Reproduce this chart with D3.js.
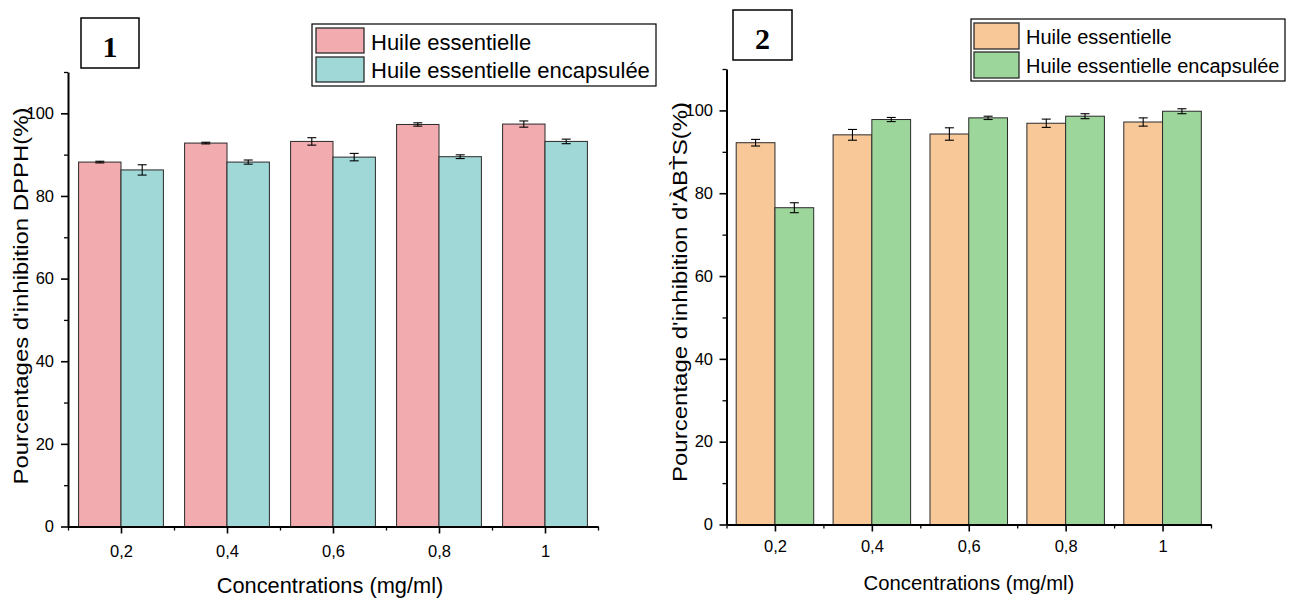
<!DOCTYPE html>
<html>
<head>
<meta charset="utf-8">
<script src="https://cdn.jsdelivr.net/npm/d3@7"></script>
<style>
  html, body { margin: 0; padding: 0; background: #fff; }
  svg { display: block; }
  text { font-family: "Liberation Sans", Arial, sans-serif; fill: #000; }
</style>
</head>
<body>
<svg id="chart" width="1293" height="599"></svg>
<script>
// ---------- data ----------
const concentrations = [0.2, 0.4, 0.6, 0.8, 1.0];
const xTickLabels = ["0,2", "0,4", "0,6", "0,8", "1"];
const yTicks = [0, 20, 40, 60, 80, 100];
const seriesNames = ["Huile essentielle", "Huile essentielle encapsulée"];

const dpphHuile = [88.2, 92.8, 93.2, 97.3, 97.4];
const dpphHuileErr = [0.2, 0.2, 0.9, 0.4, 0.75];
const dpphEncap = [86.3, 88.2, 89.4, 89.5, 93.2];
const dpphEncapErr = [1.25, 0.5, 0.9, 0.45, 0.55];

const abtsHuile = [92.2, 94.1, 94.3, 96.9, 97.2];
const abtsHuileErr = [0.8, 1.3, 1.5, 1.0, 1.0];
const abtsEncap = [76.5, 97.8, 98.2, 98.6, 99.8];
const abtsEncapErr = [1.2, 0.5, 0.4, 0.6, 0.6];

const svg = d3.select("#chart");

function drawPanel(cfg) {
  const x = d3.scaleLinear().domain([0.1, 1.1]).range([cfg.left, cfg.right]);
  const y = d3.scaleLinear().domain([0, 110]).range([cfg.bottom, cfg.top]);
  const g = svg.append("g");
  const barW = 0.08;

  const series = [
    { vals: cfg.s1, errs: cfg.e1, color: cfg.c1, off: -barW },
    { vals: cfg.s2, errs: cfg.e2, color: cfg.c2, off: 0 }
  ];

  series.forEach(s => {
    g.selectAll(null).data(concentrations).enter().append("rect")
      .attr("x", d => x(d + s.off))
      .attr("width", d => x(d + s.off + barW) - x(d + s.off))
      .attr("y", (d, i) => y(s.vals[i]))
      .attr("height", (d, i) => y(0) - y(s.vals[i]))
      .attr("fill", s.color)
      .attr("stroke", "#2a2a2a")
      .attr("stroke-width", 1);
    // error bars
    const cx = d => x(d + s.off + barW / 2);
    const eg = g.append("g").attr("stroke", "#000").attr("stroke-width", 1.1);
    eg.selectAll(null).data(concentrations).enter().append("line")
      .attr("x1", cx).attr("x2", cx)
      .attr("y1", (d, i) => y(s.vals[i] - s.errs[i]))
      .attr("y2", (d, i) => y(s.vals[i] + s.errs[i]));
    [-1, 1].forEach(sign => {
      eg.selectAll(null).data(concentrations).enter().append("line")
        .attr("x1", d => cx(d) - 4.5).attr("x2", d => cx(d) + 4.5)
        .attr("y1", (d, i) => y(s.vals[i] + sign * s.errs[i]))
        .attr("y2", (d, i) => y(s.vals[i] + sign * s.errs[i]));
    });
  });

  // minor ticks
  const minorY = d3.axisLeft(y).tickValues([10, 30, 50, 70, 90, 110]).tickSize(4).tickFormat("").tickSizeOuter(0);
  g.append("g").attr("transform", `translate(${cfg.left},0)`).call(minorY)
    .call(a => a.select(".domain").remove())
    .call(a => a.selectAll("line").attr("stroke-width", 1.3));
  const minorX = d3.axisBottom(x).tickValues([0.1, 0.3, 0.5, 0.7, 0.9, 1.1]).tickSize(4).tickFormat("").tickSizeOuter(0);
  g.append("g").attr("transform", `translate(0,${cfg.bottom})`).call(minorX)
    .call(a => a.select(".domain").remove())
    .call(a => a.selectAll("line").attr("stroke-width", 1.3));

  // major axes
  const yAxis = d3.axisLeft(y).tickValues(yTicks).tickSize(7).tickPadding(cfg.yPad).tickSizeOuter(0);
  g.append("g").attr("transform", `translate(${cfg.left},0)`).call(yAxis)
    .call(a => a.select(".domain").attr("stroke-width", 2))
    .call(a => a.selectAll("line").attr("stroke-width", 1.6))
    .call(a => a.selectAll("text").attr("font-size", cfg.tickFont).style("font-family", "Liberation Sans, Arial, sans-serif"));
  const xAxis = d3.axisBottom(x).tickValues(concentrations)
    .tickFormat((d, i) => xTickLabels[i]).tickSize(7).tickPadding(cfg.xPad).tickSizeOuter(0);
  g.append("g").attr("transform", `translate(0,${cfg.bottom})`).call(xAxis)
    .call(a => a.select(".domain").attr("stroke-width", 2))
    .call(a => a.selectAll("line").attr("stroke-width", 1.6))
    .call(a => a.selectAll("text").attr("font-size", cfg.tickFont).style("font-family", "Liberation Sans, Arial, sans-serif"));

  // axis titles
  g.append("text").attr("x", cfg.xTitleX).attr("y", cfg.xTitleY)
    .attr("text-anchor", "middle").attr("font-size", cfg.xTitleFont).text("Concentrations (mg/ml)");
  g.append("text")
    .attr("transform", `translate(${cfg.yTitleX},${cfg.yTitleY}) rotate(-90)`)
    .attr("text-anchor", "middle").attr("font-size", cfg.yTitleFont)
    .attr("textLength", cfg.yTitleLen).attr("lengthAdjust", "spacingAndGlyphs")
    .text(cfg.yTitle);

  // panel number box
  const b = cfg.numBox;
  g.append("rect").attr("x", b.x).attr("y", b.y).attr("width", b.w).attr("height", b.h)
    .attr("fill", "#fff").attr("stroke", "#000").attr("stroke-width", 1.5);
  g.append("text").attr("x", b.x + b.w / 2).attr("y", b.base)
    .attr("text-anchor", "middle").attr("font-size", b.font).attr("font-weight", "bold")
    .style("font-family", "Liberation Serif, Times New Roman, serif").text(cfg.num);

  // legend
  const L = cfg.legend;
  g.append("rect").attr("x", L.x).attr("y", L.y).attr("width", L.w).attr("height", L.h)
    .attr("fill", "#fff").attr("stroke", "#000").attr("stroke-width", 1.2);
  [cfg.c1, cfg.c2].forEach((c, i) => {
    g.append("rect").attr("x", L.sx).attr("y", L.rows[i]).attr("width", L.sw).attr("height", L.sh)
      .attr("fill", c).attr("stroke", "#2a2a2a").attr("stroke-width", 1.3);
    g.append("text").attr("x", L.tx).attr("y", L.base[i])
      .attr("font-size", L.font).text(seriesNames[i]);
  });
}

drawPanel({
  left: 68, right: 598, top: 72, bottom: 526.5,
  s1: dpphHuile, e1: dpphHuileErr, s2: dpphEncap, e2: dpphEncapErr,
  c1: "#F2ABAE", c2: "#A0D8D8",
  tickFont: 16.5, yPad: 7, xPad: 12,
  xTitleX: 330, xTitleY: 593, xTitleFont: 21.8,
  yTitle: "Pourcentages d'inhibition DPPH(%)", yTitleX: 28, yTitleY: 296, yTitleFont: 21, yTitleLen: 377,
  num: "1", numBox: { x: 81, y: 18, w: 58, h: 50, base: 57, font: 30 },
  legend: { x: 312, y: 24, w: 344, h: 62, sx: 316, sw: 48, sh: 25, rows: [28, 57], tx: 371, base: [49.5, 78], font: 22 }
});

drawPanel({
  left: 726.5, right: 1211, top: 69, bottom: 524.5,
  s1: abtsHuile, e1: abtsHuileErr, s2: abtsEncap, e2: abtsEncapErr,
  c1: "#F9C899", c2: "#9DD69B",
  tickFont: 16.5, yPad: 6.5, xPad: 9,
  xTitleX: 969, xTitleY: 590, xTitleFont: 20.3,
  yTitle: "Pourcentage d'inhibition d'ÀBT̀S(%)", yTitleX: 687, yTitleY: 292, yTitleFont: 21, yTitleLen: 380,
  num: "2", numBox: { x: 733, y: 10, w: 59, h: 50, base: 49, font: 30 },
  legend: { x: 971, y: 19, w: 314, h: 62, sx: 974, sw: 45, sh: 26, rows: [23, 52], tx: 1026, base: [43.5, 73], font: 20 }
});
</script>
</body>
</html>
